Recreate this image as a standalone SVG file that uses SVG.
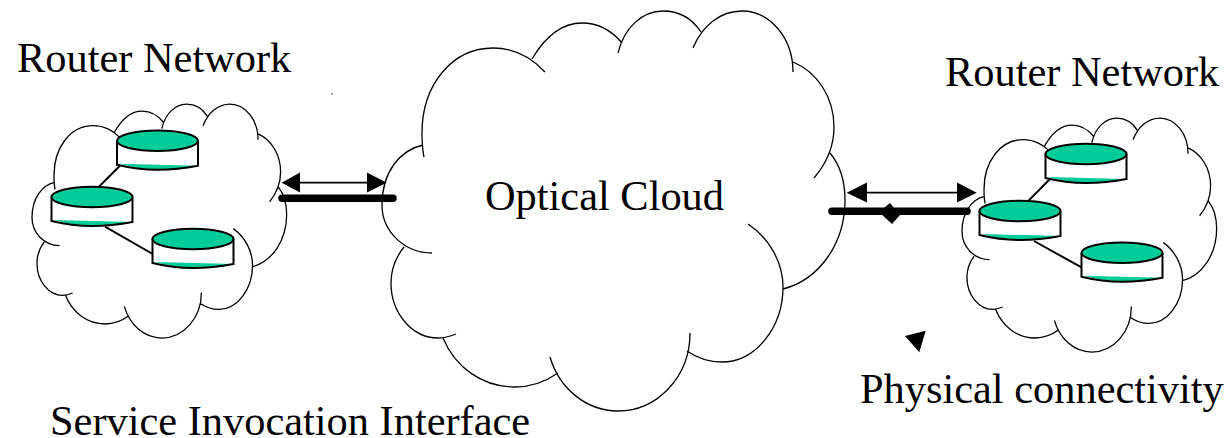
<svg xmlns="http://www.w3.org/2000/svg" xmlns:xlink="http://www.w3.org/1999/xlink" width="1228" height="438" viewBox="0 0 1228 438">
<style>
.t{font-family:"Liberation Serif","Times New Roman",serif;font-size:42.4px;fill:#000}
.c{fill:none;stroke:#000;stroke-width:1.3;vector-effect:non-scaling-stroke}
.l{stroke:#000;stroke-width:2;fill:none}
.bar{stroke:#000;stroke-width:7.5;stroke-linecap:round;fill:none}
.a{stroke:#000;stroke-width:1.8;fill:none}
.o{stroke:#000;stroke-width:2;fill:#00cc99}
</style>
<defs>
<path id="cloud" class="c" d="M423,145C400,150 382,172 382,205C382,232 405,253 432,253M424,157C422,148 422,140 422,133C422,85 452,48 493,48C514,48 532,58 545,72M532,59C545,37 562,23 582,23C598,23 612,31 622,43M618,53C624,28 642,11 663,11C680,11 693,20 701,32M693,48C702,26 720,11 742,11C770,11 793,38 793,72M793,62C817,72 834,97 834,127C834,147 826,164 814,178M830,153C840,165 845,182 845,200C845,245 818,280 783,289M748,224C769,238 783,262 783,287C783,328 755,362 722,362C709,362 697,358 687,351M690,333C690,377 657,411 618,411C586,411 559,388 550,357M558,373C545,382 530,387 515,387C482,387 455,367 443,338M456,334C451,336 445,338 438,338C412,338 391,313 391,283C391,269 396,257 404,247"/>
<g id="cyl">
<path d="M-40.5,0V24L-40,23Q0,33 40.5,25V0Z" fill="#fff"/>
<path d="M-38,23L40,25Q0,34 -38,23Z" fill="#00cc99"/>
<path class="l" d="M-40.5,0V24Q-20,29 0,29Q20,29 40.5,25V0"/>
<ellipse class="o" cx="0" cy="0" rx="40.5" ry="10.3"/>
</g>
</defs>
<g id="optical-cloud"><use href="#cloud"/></g>
<g id="left-cloud"><use href="#cloud" transform="translate(-178.1 97.6) scale(.55 .585)"/></g>
<g id="right-cloud"><use href="#cloud" transform="translate(751.9 111.6) scale(.55 .585)"/></g>
<g id="connectors">
<path class="l" d="M120.7,165L96.7,189M105,226.7L152.7,254M1050.7,178.3L1026,203.3M1034,241L1082,267.7"/>
<path class="a" d="M295,182.7H372M862,192.7H962"/>
<path d="M281.7,182.7L300,172.5V192.5ZM386.7,182.7L367,172.5V192.5ZM846.7,192.7L867,182.5V202.5ZM976.7,192.7L957,182.5V202.5Z"/>
<path class="bar" d="M282,198.3H393M832,211.3H967"/>
</g>
<g id="left-router-1"><use href="#cyl" x="157.5" y="140.7"/></g>
<g id="left-router-2"><use href="#cyl" x="92" y="197"/></g>
<g id="left-router-3"><use href="#cyl" x="193" y="239"/></g>
<g id="right-router-1"><use href="#cyl" x="1086" y="154"/></g>
<g id="right-router-2"><use href="#cyl" x="1020" y="211"/></g>
<g id="right-router-3"><use href="#cyl" x="1122" y="252.7"/></g>
<g id="marks">
<path d="M890,203L900,215L892,224L879,212Z"/>
<path d="M905,336L925.7,330.7L919.3,352.3Z"/>
<circle cx="332" cy="94" r=".7"/>
</g>
<g id="labels">
<text class="t" x="17" y="71.5">Router Network</text>
<text class="t" x="945" y="86">Router Network</text>
<text class="t" x="485" y="210">Optical Cloud</text>
<text class="t" x="860" y="402.5">Physical connectivity</text>
<text class="t" x="50" y="435">Service Invocation Interface</text>
</g>
</svg>
